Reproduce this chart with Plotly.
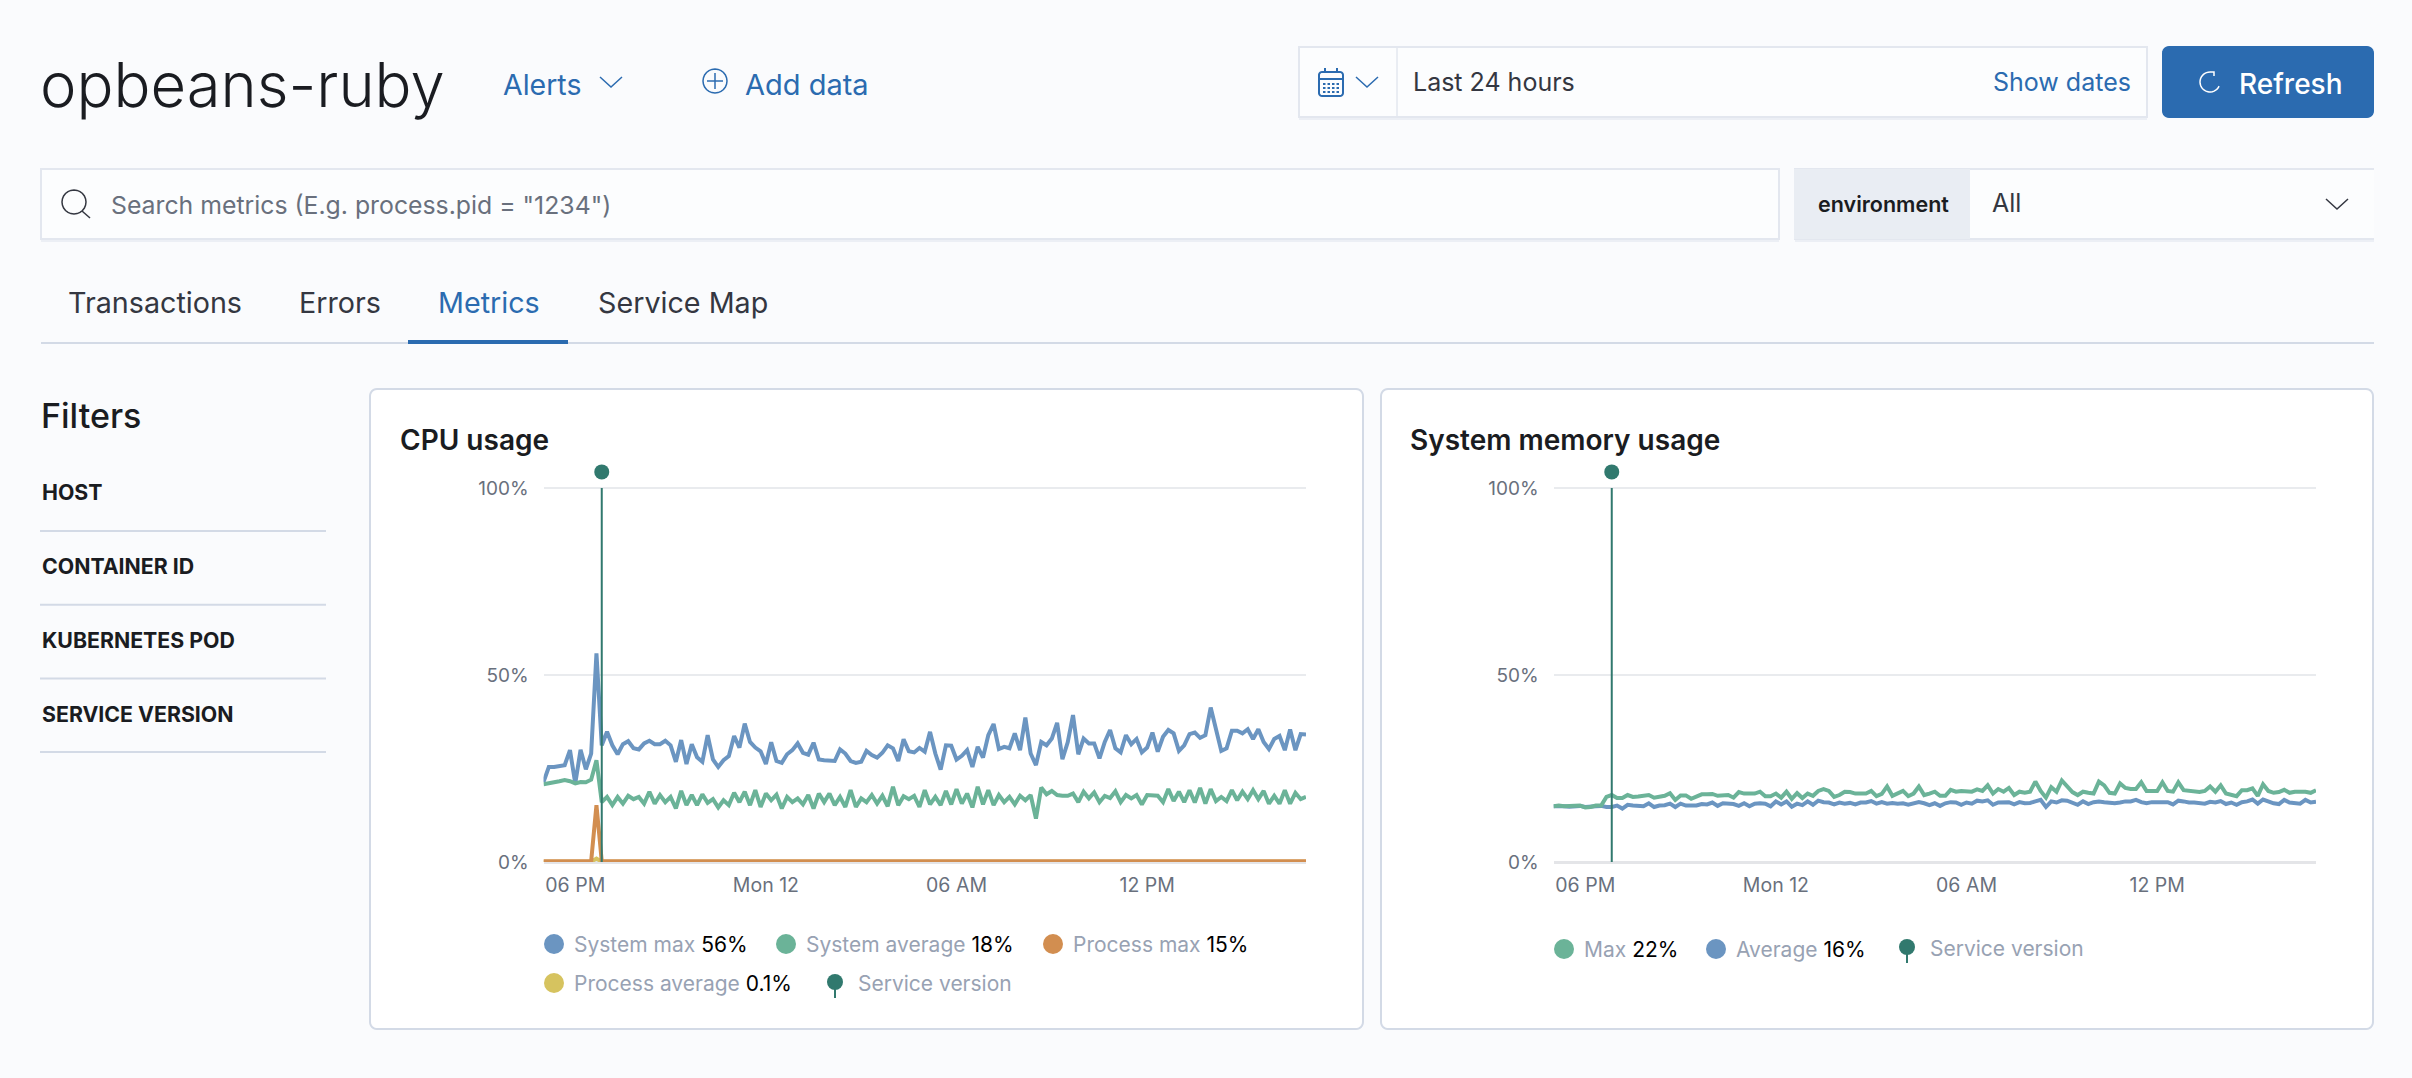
import math
import pandas as pd
import plotly.graph_objects as go

W = 2412
H = 1078

# values, one point every 10 minutes from 17:00
SYSTEM_MAX = [
    21.4, 25.4, 25.4, 25.7, 25.9, 29.9, 21, 30, 24.8, 29,
    55.8, 31.2, 34.8, 31.2, 28.8, 31.5, 32.3, 30.4, 30.1, 31.7,
    32.4, 31.5, 31.5, 32.4, 31.2, 26.8, 32.6, 26.2, 31.5, 28,
    26.8, 33.9, 27.4, 25.4, 27.2, 28.3, 33.7, 30.6, 37, 32.1,
    30.6, 29.6, 26.2, 32, 27, 26.5, 28.8, 29.9, 31.7, 29.2,
    28.7, 31.9, 27.4, 27.2, 27.1, 27, 30.1, 29, 27, 26.5,
    26.8, 29.7, 28.6, 27.9, 29.2, 31.2, 30.4, 27, 32.8, 29.6,
    29.3, 30.5, 29.5, 34.8, 29, 24.7, 31.2, 31.1, 27.4, 28.4,
    29.9, 25.4, 30.8, 27.9, 33.9, 36.9, 30.2, 30.8, 30.4, 34.4,
    29.9, 38.6, 29, 25.9, 32.1, 31.2, 33, 37.2, 27.5, 32,
    39.3, 28.8, 33, 31.7, 31.7, 27.7, 32.1, 35.3, 30.4, 29.3,
    33.9, 31.5, 32.9, 29.3, 30.6, 34.6, 29.5, 33.5, 35.3, 34.4,
    29.7, 31.2, 34.2, 34.6, 33.2, 33.9, 41.3, 35.7, 29.7, 30.4,
    35.1, 35.1, 34.4, 35.5, 32.9, 35.5, 32.1, 30.2, 32.9, 33.7,
    29.9, 35.4, 29.9, 34.2, 34.1,
]
SYSTEM_AVG = [
    20.8, 21, 21.2, 21.6, 21.9, 21.6, 21, 21.4, 21.3, 22,
    27.2, 16, 17.4, 15.2, 17.4, 15.6, 17.7, 16.8, 17.4, 15.6,
    18.8, 15.6, 17.9, 16, 17.4, 14.3, 19, 15.2, 17.9, 15.2,
    18.1, 15.8, 16.8, 14.6, 16.5, 15.2, 18.5, 16, 18.8, 15.2,
    19.2, 14.7, 18.3, 16.5, 18, 14.3, 17.4, 16, 17, 15.4,
    17.9, 14.3, 18.3, 16, 18.3, 15.2, 17.4, 14.7, 19.2, 14.7,
    17, 16, 17.9, 15.6, 17.7, 14.9, 20.1, 15.2, 17.6, 16.8,
    17.7, 14.7, 19.2, 15.4, 17.4, 15.2, 19, 15.4, 19.5, 15.6,
    18.3, 14.6, 20.1, 15.4, 19.2, 15.2, 17.9, 16, 17.4, 15.4,
    17.7, 16.5, 17.9, 11.6, 19.9, 18.1, 19, 17.9, 17.7, 17.7,
    18.3, 16, 18.8, 17, 18.6, 16, 17.7, 17.1, 18.9, 16,
    17.9, 17, 17.9, 15.4, 17.9, 17.7, 17.7, 16, 19.5, 16.3,
    18.8, 16, 19.2, 15.9, 19.8, 15.6, 19.5, 16.3, 17.4, 16.3,
    19.2, 16.5, 18.8, 16.8, 19.2, 16.8, 19, 15.6, 17.7, 15.6,
    19.2, 15.6, 18.5, 16.8, 17.4,
]
PROCESS_MAX = [
    0.2, 0.2, 0.1, 0.2, 0.2, 0.2, 0.1, 0.2, 0.2, 0.2,
    15.2, 0.2, 0.2, 0.2, 0.1, 0.2, 0.2, 0.2, 0.2, 0.1,
    0.2, 0.3, 0.2, 0.2, 0.1, 0.2, 0.2, 0.2, 0.1, 0.2,
    0.2, 0.2, 0.2, 0.1, 0.2, 0.2, 0.2, 0.2, 0.3, 0.2,
    0.1, 0.2, 0.2, 0.2, 0.2, 0.1, 0.2, 0.2, 0.3, 0.2,
    0.2, 0.1, 0.2, 0.2, 0.2, 0.1, 0.2, 0.3, 0.2, 0.2,
    0.1, 0.2, 0.2, 0.1, 0.2, 0.2, 0.2, 0.1, 0.2, 0.3,
    0.2, 0.2, 0.1, 0.2, 0.2, 0.2, 0.1, 0.2, 0.2, 0.3,
    0.2, 0.1, 0.2, 0.2, 0.2, 0.1, 0.2, 0.2, 0.2, 0.1,
    0.2, 0.3, 0.2, 0.2, 0.1, 0.2, 0.2, 0.2, 0.3, 0.2,
    0.1, 0.2, 0.2, 0.2, 0.1, 0.2, 0.2, 0.3, 0.2, 0.2,
    0.1, 0.2, 0.2, 0.2, 0.2, 0.1, 0.2, 0.2, 0.2, 0.3,
    0.2, 0.1, 0.2, 0.2, 0.2, 0.1, 0.2, 0.2, 0.3, 0.2,
    0.2, 0.1, 0.2, 0.2, 0.2, 0.1, 0.2, 0.2, 0.2, 0.2,
    0.1, 0.2, 0.2, 0.3, 0.2,
]
PROCESS_AVG = [
    0.1, 0.1, 0.1, 0.1, 0.1, 0.1, 0.1, 0.1, 0.1, 0.1,
    0.9, 0.1, 0.1, 0.1, 0.1, 0.1, 0.1, 0.1, 0.1, 0.1,
    0.1, 0.1, 0.1, 0.1, 0.1, 0.1, 0.1, 0.1, 0.1, 0.1,
    0.1, 0.1, 0.1, 0.1, 0.1, 0.1, 0.1, 0.1, 0.1, 0.1,
    0.1, 0.1, 0.1, 0.1, 0.1, 0.1, 0.1, 0.1, 0.1, 0.1,
    0.1, 0.1, 0.1, 0.1, 0.1, 0.1, 0.1, 0.1, 0.1, 0.1,
    0.1, 0.1, 0.1, 0.1, 0.1, 0.1, 0.1, 0.1, 0.1, 0.1,
    0.1, 0.1, 0.1, 0.1, 0.1, 0.1, 0.1, 0.1, 0.1, 0.1,
    0.1, 0.1, 0.1, 0.1, 0.1, 0.1, 0.1, 0.1, 0.1, 0.1,
    0.1, 0.1, 0.1, 0.1, 0.1, 0.1, 0.1, 0.1, 0.1, 0.1,
    0.1, 0.1, 0.1, 0.1, 0.1, 0.1, 0.1, 0.1, 0.1, 0.1,
    0.1, 0.1, 0.1, 0.1, 0.1, 0.1, 0.1, 0.1, 0.1, 0.1,
    0.1, 0.1, 0.1, 0.1, 0.1, 0.1, 0.1, 0.1, 0.1, 0.1,
    0.1, 0.1, 0.1, 0.1, 0.1, 0.1, 0.1, 0.1, 0.1, 0.1,
    0.1, 0.1, 0.1, 0.1, 0.1,
]
MEM_MAX = [
    14.9, 15.1, 14.9, 14.9, 15.1, 15.1, 14.6, 14.7, 15.1, 15.1,
    17.4, 17.9, 17.1, 17.1, 17.9, 17.4, 17.5, 17.6, 17.9, 17.2,
    17.5, 17.7, 18.4, 16.6, 17.8, 17.8, 16.9, 17.5, 18.1, 18.1,
    18.2, 17.7, 17.8, 17.9, 17.2, 18.7, 18.3, 18.3, 18.3, 18.8,
    17.6, 17.6, 18.3, 17.2, 18.8, 16.9, 18.4, 17.1, 18.3, 17.7,
    19, 19.5, 19, 17.4, 17.9, 18.8, 18.7, 18.3, 18.2, 18.3,
    19, 17.6, 18.2, 20.2, 17.7, 18.5, 19, 17.6, 18.3, 20.2,
    17.9, 18.3, 18.8, 17.7, 17.7, 19.3, 18.8, 19, 18.8, 18.8,
    19.4, 19, 20.5, 18.3, 19.5, 18.8, 19.8, 17.9, 18.8, 18.5,
    18.8, 21.5, 19, 17.2, 20, 18.8, 21.8, 20.2, 18.7, 17.9,
    18.8, 18.5, 18.3, 21.5, 20.5, 18.5, 18.3, 21, 19.8, 19.5,
    19.5, 21.3, 19, 19, 19, 21.3, 19, 18.8, 21.3, 19.2,
    19, 18.8, 18.7, 19, 20.2, 18.8, 20.5, 18.3, 17.9, 17.6,
    19.2, 19.2, 19.7, 17.7, 20.8, 19, 18.5, 18.7, 19.3, 18.5,
    18.8, 18.8, 18.8, 18.5, 19.2,
]
MEM_AVG = [
    14.9, 15, 14.9, 14.8, 14.9, 15, 14.7, 14.7, 14.9, 15,
    14.7, 14.7, 15.1, 14.3, 15.3, 15.1, 15.1, 14.9, 15.7, 14.7,
    15.1, 15.2, 15.6, 14.7, 15.6, 15.1, 15.1, 15.1, 15.5, 15.4,
    15.9, 15, 15.7, 15.5, 15.5, 15, 15.7, 14.9, 15.6, 15.7,
    15.6, 14.9, 16.2, 15.4, 16.2, 14.8, 15.6, 15.2, 16.2, 15.3,
    16.4, 16, 15.9, 15.4, 15.9, 15.6, 15.8, 15.4, 15.9, 15.9,
    16.3, 15.6, 16, 15.6, 15.8, 15.6, 15.7, 15.3, 15.7, 16,
    15.7, 15.2, 15.7, 15, 15.7, 16, 15.9, 15.3, 15.9, 15.6,
    16.4, 16.2, 16.5, 15.3, 15.9, 16, 16, 15.4, 16, 15.7,
    15.8, 16.2, 16.6, 14.7, 16.2, 15.9, 16.5, 16.4, 15.9, 15.3,
    16.2, 15.5, 16, 16.2, 16, 15.8, 15.7, 15.9, 16.2, 16.2,
    16.6, 16, 15.7, 16, 16, 16, 16, 15.4, 16.4, 16.2,
    15.9, 15.9, 15.8, 15.6, 16.1, 15.9, 16.3, 15.5, 15.9, 15.3,
    16, 16.2, 16.7, 15.6, 16.7, 16.1, 15.7, 15.5, 16.6, 15.9,
    15.8, 15.6, 16.6, 15.9, 16.1,
]
TIMES = pd.date_range("2020-10-11 17:00", periods=len(SYSTEM_MAX), freq="10min")
SERVICE_VERSION_TIME = "2020-10-11 18:50"

X_TICK_VALS = ["2020-10-11 18:00", "2020-10-12 00:00", "2020-10-12 06:00", "2020-10-12 12:00"]
X_TICK_LABELS = ["06 PM", "Mon 12", "06 AM", "12 PM"]
Y_TICK_VALS = [0, 50, 100]
Y_TICK_LABELS = ["0%", "50%", "100%"]
FILTER_NAMES = ["HOST", "CONTAINER ID", "KUBERNETES POD", "SERVICE VERSION"]

BLUE = "#6b95c1"
GREEN = "#6bb398"
ORANGE = "#d28e50"
YELLOW = "#d6c35f"
PIN = "#31796e"
LINK = "#2b6bb0"
INK = "#1a1c21"
TEXT = "#343741"
SUBDUED = "#69707d"
LEGEND_TEXT = "#98a2b3"
RULE = "#d3dae6"
PAGE = "#fafbfd"
FONT = "Inter"


def px(x):
    return x / W


def py(y):
    return 1 - y / H


shapes = []
annotations = []


def label(x, y, text, size, color=TEXT, weight=400, anchor="left"):
    annotations.append(dict(
        xref="paper", yref="paper", x=px(x), y=py(y), text=text, showarrow=False,
        xanchor=anchor, yanchor="middle", align=anchor, borderpad=0,
        font=dict(family=FONT, size=size, color=color, weight=weight),
    ))


def rect(x0, y0, x1, y1, fill, line=None, width=0):
    shapes.append(dict(
        type="rect", xref="paper", yref="paper", x0=px(x0), x1=px(x1), y0=py(y0), y1=py(y1),
        fillcolor=fill, line=dict(color=line, width=width) if line else dict(width=0), layer="below",
    ))


def path(points, color, width=2, fill=None, close=False):
    d = "M" + " L".join(f"{px(x):.6f},{py(y):.6f}" for x, y in points)
    if close:
        d += " Z"
    shapes.append(dict(
        type="path", xref="paper", yref="paper", path=d, fillcolor=fill,
        line=dict(color=color, width=width), layer="below",
    ))


def round_rect(x0, y0, x1, y1, r, fill, line=None, width=0):
    pts = []
    corners = [(x1 - r, y0 + r, -90), (x1 - r, y1 - r, 0), (x0 + r, y1 - r, 90), (x0 + r, y0 + r, 180)]
    for cx, cy, start in corners:
        for k in range(7):
            a = math.radians(start + k * 15)
            pts.append((cx + r * math.cos(a), cy + r * math.sin(a)))
    path(pts, line if line else fill, width, fill, True)


def arc(cx, cy, r, a0, a1, color, width=2):
    pts = []
    n = 24
    for k in range(n + 1):
        a = math.radians(a0 + (a1 - a0) * k / n)
        pts.append((cx + r * math.cos(a), cy + r * math.sin(a)))
    path(pts, color, width)


def chevron(cx, cy, color, half=11, drop=10, width=2):
    path([(cx - half, cy - drop / 2), (cx, cy + drop / 2), (cx + half, cy - drop / 2)], color, width)


def dot(cx, cy, r, color):
    shapes.append(dict(
        type="circle", xref="paper", yref="paper", x0=px(cx - r), x1=px(cx + r), y0=py(cy + r), y1=py(cy - r),
        fillcolor=color, line=dict(width=0), layer="below",
    ))


def input_box(x0, y0, x1, y1, open_right=False):
    rect(x0, y1, x1, y1 + 3, "#eceff5")
    if open_right:
        rect(x0, y0, x1, y1, "#fcfdfe")
        path([(x1, y0), (x0, y0), (x0, y1), (x1, y1)], "#e3e7ef", 2)
    else:
        rect(x0, y0, x1, y1, "#fcfdfe", "#e3e7ef", 2)


# header
label(39, 84, "opbeans-ruby", 61.5, INK, 300)
label(502, 84, "Alerts", 28.5, LINK)
chevron(611, 82, LINK, width=1.5)
arc(715, 81, 12, 0, 360, LINK, 1.5)
path([(707, 81), (723, 81)], LINK, 1.5)
path([(715, 73), (715, 89)], LINK, 1.5)
label(744, 84, "Add data", 29, LINK)

input_box(1299, 47, 2147, 117)
path([(1397, 48), (1397, 116)], "#e3e7ef", 1.5)
round_rect(1319, 72, 1343, 96, 3, None, LINK, 2)
path([(1319, 79), (1343, 79)], LINK, 2)
path([(1325, 68), (1325, 73)], LINK, 2)
path([(1337, 68), (1337, 73)], LINK, 2)
for row in range(3):
    for col in range(4):
        rect(1323 + col * 4.5, 83 + row * 4, 1325.5 + col * 4.5, 85 + row * 4, LINK)
chevron(1367, 82, LINK, width=1.5)
label(1412, 82, "Last 24 hours", 25, TEXT)
label(2132, 82, "Show dates", 25, LINK, anchor="right")
round_rect(2162, 46, 2374, 118, 7, LINK)
arc(2210, 82, 10, -90, -335, "#ffffff", 1.5)
path([(2210, 72), (2214, 72), (2214, 76)], "#ffffff", 1.5)
label(2238, 84, "Refresh", 28, "#ffffff", 500)

# query bar
input_box(41, 169, 1779, 239)
arc(74, 202, 12, 0, 360, TEXT, 1.5)
path([(82, 211), (90, 218)], TEXT, 1.5)
label(110, 205, 'Search metrics (E.g. process.pid = "1234")', 24.8, SUBDUED)
input_box(1795, 169, 2374, 239, open_right=True)
rect(1794, 169, 1970, 239, "#e9edf3")
label(1817, 204, "environment", 21.5, INK, 600)
label(1991, 203, "All", 25, TEXT)
chevron(2337, 204, TEXT, width=1.5)

# tabs
label(67, 302, "Transactions", 28.7, TEXT)
label(298, 302, "Errors", 28.7, TEXT)
label(437, 302, "Metrics", 28.7, LINK)
label(597, 302, "Service Map", 28.7, TEXT)
rect(41, 342, 2374, 344, RULE)
rect(408, 340, 568, 344, LINK)

# filters
label(40, 415, "Filters", 34, INK, 500)
for i, name in enumerate(FILTER_NAMES):
    label(41, 492 + i * 74, name, 21.3, INK, 700)
    rect(40, 530 + i * 73.7, 326, 532 + i * 73.7, RULE)

# cards
for x0, x1 in [(370, 1363), (1381, 2373)]:
    round_rect(x0, 389, x1, 1029, 7, "#ffffff", RULE, 2)
label(399, 440, "CPU usage", 28, INK, 600)
label(1409, 440, "System memory usage", 28, INK, 600)


def legend_item(x, y, name, value, color):
    dot(x, y, 10, color)
    text = f'<span style="color:{LEGEND_TEXT}">{name}</span>&nbsp;{value}'
    label(x + 18.5, y, text, 21, "#000000")


def legend_pin(x, y):
    dot(x, y - 1, 8, PIN)
    path([(x, y), (x, y + 15)], PIN, 2)
    label(x + 21.5, y, "Service version", 21, LEGEND_TEXT)


legend_item(554, 944, "System max", "56%", BLUE)
legend_item(786, 944, "System average", "18%", GREEN)
legend_item(1053, 944, "Process max", "15%", ORANGE)
legend_item(554, 983, "Process average", "0.1%", YELLOW)
legend_pin(835, 983)
legend_item(1564, 949, "Max", "22%", GREEN)
legend_item(1716, 949, "Average", "16%", BLUE)
legend_pin(1907, 948)

fig = go.Figure()


def add_line(values, color, axis):
    fig.add_trace(go.Scatter(
        x=TIMES, y=values, mode="lines", line=dict(color=color, width=4),
        cliponaxis=False, xaxis=f"x{axis}", yaxis=f"y{axis}", hoverinfo="skip",
    ))


def add_version(axis):
    fig.add_trace(go.Scatter(
        x=[SERVICE_VERSION_TIME, SERVICE_VERSION_TIME], y=[0, 100], mode="lines",
        line=dict(color=PIN, width=2), cliponaxis=False,
        xaxis=f"x{axis}", yaxis=f"y{axis}", hoverinfo="skip",
    ))
    fig.add_trace(go.Scatter(
        x=[SERVICE_VERSION_TIME], y=[104.3], mode="markers",
        marker=dict(color=PIN, size=15), cliponaxis=False,
        xaxis=f"x{axis}", yaxis=f"y{axis}", hoverinfo="skip",
    ))


add_line(SYSTEM_MAX, BLUE, 1)
add_line(SYSTEM_AVG, GREEN, 1)
add_line(PROCESS_AVG, YELLOW, 1)
add_line(PROCESS_MAX, ORANGE, 1)
add_version(1)
add_line(MEM_AVG, BLUE, 2)
add_line(MEM_MAX, GREEN, 2)
add_version(2)

x_axis = dict(
    type="date", range=[TIMES[0], TIMES[-1]], tickmode="array",
    tickvals=X_TICK_VALS, ticktext=X_TICK_LABELS,
    showgrid=False, zeroline=False, showline=False, automargin=False,
    ticks="outside", ticklen=6, tickcolor="rgba(0,0,0,0)",
    tickfont=dict(family=FONT, size=19.5, color=SUBDUED),
)
# the axis runs past 100 so the service version pin has room above the top gridline
y_axis = dict(
    range=[0, 110], tickmode="array", tickvals=Y_TICK_VALS, ticktext=Y_TICK_LABELS,
    showgrid=True, gridcolor="#e9ebee", gridwidth=1.5,
    zeroline=True, zerolinecolor="#e4e5e8", zerolinewidth=3, showline=False, automargin=False,
    ticks="outside", ticklen=10, tickcolor="rgba(0,0,0,0)",
    tickfont=dict(family=FONT, size=19, color=SUBDUED),
    domain=[py(862), py(862 - 374 * 1.1)],
)

fig.update_layout(
    width=W, height=H, template="none", showlegend=False,
    margin=dict(l=0, r=0, t=0, b=0, pad=0),
    paper_bgcolor=PAGE, plot_bgcolor="rgba(0,0,0,0)",
    xaxis=dict(x_axis, domain=[px(543.5), px(1306)], anchor="y"),
    yaxis=dict(y_axis, anchor="x"),
    xaxis2=dict(x_axis, domain=[px(1553.5), px(2316)], anchor="y2"),
    yaxis2=dict(y_axis, anchor="x2"),
    shapes=shapes, annotations=annotations,
)

fig.write_html(
    "out.html",
    config=dict(displayModeBar=False),
    post_script="document.body.style.margin='0';document.body.style.overflow='hidden';",
)
